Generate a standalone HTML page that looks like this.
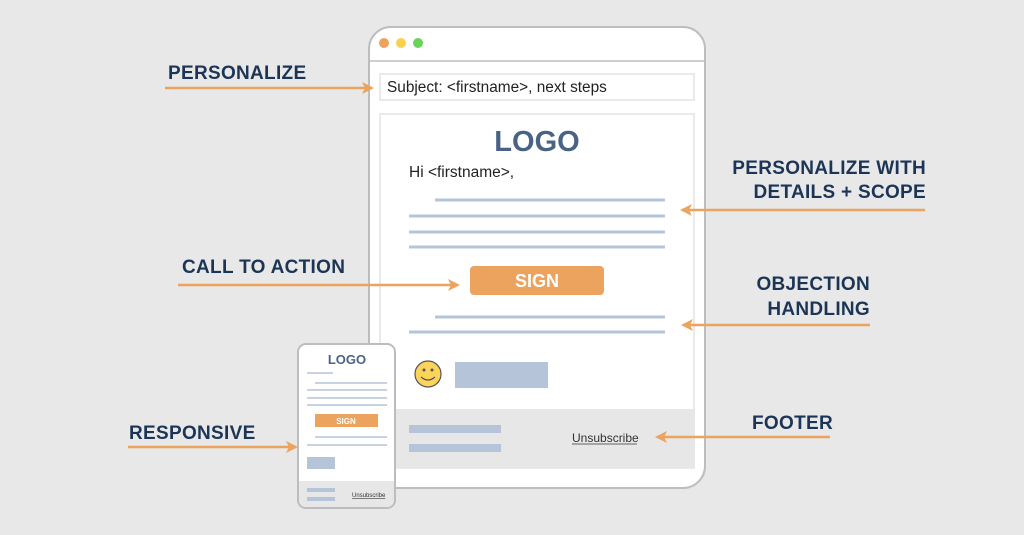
<!DOCTYPE html>
<html><head><style>
html,body{margin:0;padding:0;background:#e8e8e8;}
svg{display:block}
text{font-family:"Liberation Sans",sans-serif}
.lb{font-weight:bold;font-size:19px;fill:#1c3557;letter-spacing:0.3px}
</style></head><body>
<svg width="1024" height="535" viewBox="0 0 1024 535">
<defs>
<marker id="ah" markerWidth="14" markerHeight="14" refX="10" refY="6" orient="auto" markerUnits="userSpaceOnUse">
<path d="M0,0 L12,6 L0,12 L3,6 Z" fill="#eca35e"/>
</marker>
</defs>
<rect width="1024" height="535" fill="#e8e8e8"/>
<rect x="369" y="27" width="336" height="461" rx="22" fill="#fff" stroke="#bdbdbd" stroke-width="2"/>
<line x1="370" y1="61" x2="704" y2="61" stroke="#bdbdbd" stroke-width="1.5"/>
<circle cx="384" cy="43" r="5" fill="#eca35e"/>
<circle cx="401" cy="43" r="5" fill="#fcd04f"/>
<circle cx="418" cy="43" r="5" fill="#6cd35a"/>
<rect x="380" y="74" width="314" height="26" fill="#fff" stroke="#e3e3e3" stroke-width="1.5"/>
<text x="387" y="92" font-size="15.4" fill="#222">Subject: &lt;firstname&gt;, next steps</text>
<rect x="380" y="114" width="314" height="354" fill="#fff" stroke="#e3e3e3" stroke-width="1.5"/>
<text x="537" y="151" font-size="29" font-weight="bold" fill="#4a6385" text-anchor="middle">LOGO</text>
<text x="409" y="177" font-size="15.5" fill="#222">Hi &lt;firstname&gt;,</text>
<g stroke="#b5c4d9" stroke-width="3">
<line x1="435" y1="200" x2="665" y2="200"/>
<line x1="409" y1="216" x2="665" y2="216"/>
<line x1="409" y1="232" x2="665" y2="232"/>
<line x1="409" y1="247" x2="665" y2="247"/>
<line x1="435" y1="317" x2="665" y2="317"/>
<line x1="409" y1="332" x2="665" y2="332"/>
</g>
<rect x="470" y="266" width="134" height="29" rx="4" fill="#eca35e"/>
<text x="537" y="287" font-size="18" font-weight="bold" fill="#fff" text-anchor="middle">SIGN</text>
<circle cx="428" cy="374" r="13" fill="#fcd45a" stroke="#555" stroke-width="1.2"/>
<circle cx="424" cy="370" r="1.5" fill="#555"/><circle cx="432" cy="370" r="1.5" fill="#555"/>
<path d="M421,377 Q428,383 435,377" fill="none" stroke="#555" stroke-width="1.2"/>
<rect x="455" y="362" width="93" height="26" fill="#b5c4d9"/>
<rect x="370" y="409" width="325" height="59" fill="#e7e7e7"/>
<rect x="409" y="425" width="92" height="8" fill="#b5c4d9"/>
<rect x="409" y="444" width="92" height="8" fill="#b5c4d9"/>
<text x="572" y="442" font-size="12" fill="#333">Unsubscribe</text>
<line x1="572" y1="444" x2="637" y2="444" stroke="#333" stroke-width="0.8"/>
<rect x="298" y="344" width="97" height="164" rx="8" fill="#fff" stroke="#bdbdbd" stroke-width="2"/>
<path d="M299,481 H394 V500 a7,7 0 0 1 -7,7 H306 a7,7 0 0 1 -7,-7 Z" fill="#e7e7e7"/>
<text x="347" y="364" font-size="13" font-weight="bold" fill="#4a6385" text-anchor="middle">LOGO</text>
<g stroke="#b5c4d9" stroke-width="1.5">
<line x1="307" y1="373" x2="333" y2="373"/>
<line x1="315" y1="383" x2="387" y2="383"/>
<line x1="307" y1="390" x2="387" y2="390"/>
<line x1="307" y1="398" x2="387" y2="398"/>
<line x1="307" y1="405" x2="387" y2="405"/>
<line x1="315" y1="437" x2="387" y2="437"/>
<line x1="307" y1="445" x2="387" y2="445"/>
</g>
<rect x="315" y="414" width="63" height="13" fill="#eca35e"/>
<text x="346" y="424" font-size="8" font-weight="bold" fill="#fff" text-anchor="middle">SIGN</text>
<rect x="307" y="457" width="28" height="12" fill="#b5c4d9"/>
<rect x="307" y="488" width="28" height="4" fill="#b5c4d9"/>
<rect x="307" y="497" width="28" height="4" fill="#b5c4d9"/>
<text x="352" y="497" font-size="6" fill="#333" text-decoration="underline">Unsubscribe</text>
<text x="168" y="79" class="lb">PERSONALIZE</text>
<text x="926" y="174" class="lb" text-anchor="end">PERSONALIZE WITH</text>
<text x="926" y="198" class="lb" text-anchor="end">DETAILS + SCOPE</text>
<text x="182" y="273" class="lb">CALL TO ACTION</text>
<text x="870" y="290" class="lb" text-anchor="end">OBJECTION</text>
<text x="870" y="315" class="lb" text-anchor="end">HANDLING</text>
<text x="129" y="439" class="lb">RESPONSIVE</text>
<text x="752" y="429" class="lb">FOOTER</text>
<g stroke="#eca35e" stroke-width="2.5" marker-end="url(#ah)">
<line x1="165" y1="88" x2="372" y2="88"/>
<line x1="925" y1="210" x2="682" y2="210"/>
<line x1="178" y1="285" x2="458" y2="285"/>
<line x1="870" y1="325" x2="683" y2="325"/>
<line x1="128" y1="447" x2="296" y2="447"/>
<line x1="830" y1="437" x2="657" y2="437"/>
</g>
</svg>
</body></html>
